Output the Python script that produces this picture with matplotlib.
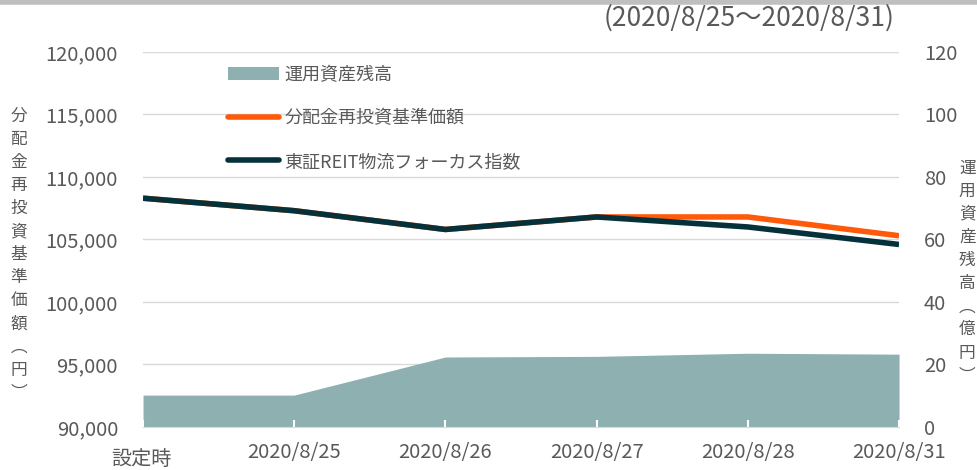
import numpy as np
import matplotlib.pyplot as plt
from matplotlib.patches import Patch
from matplotlib.lines import Line2D
import matplotlib.transforms as mtransforms

plt.rcParams['font.family'] = ['Noto Sans CJK JP', 'DejaVu Sans']

# data
dates = ['設定時', '2020/8/25', '2020/8/26', '2020/8/27', '2020/8/28', '2020/8/31']
nav = [108300, 107300, 105800, 106800, 106800, 105300]      # 分配金再投資基準価額
index = [108300, 107300, 105800, 106800, 106000, 104600]    # 東証REIT物流フォーカス指数
assets = [10.2, 10.2, 22.4, 22.6, 23.6, 23.3]              # 運用資産残高（億円）

grey = '#595959'
gridc = '#d9d9d9'
areac = '#8fb0b0'
orange = '#ff5a0a'
dark = '#05313a'

fig = plt.figure(figsize=(9.77, 4.70), dpi=100)
ax = fig.add_axes([0.1464, 0.0915, 0.7738, 0.798])
ax2 = ax.twinx()

x = np.arange(len(dates))
ax2.fill_between(x, 0, assets, color=areac, lw=0)
ax2.set_ylim(0, 120)
ax2.set_yticks(np.arange(0, 121, 20))

ax.plot(x, nav, color=orange, lw=4, solid_capstyle='butt', zorder=3)
ax.plot(x, index, color=dark, lw=4, solid_capstyle='butt', zorder=4)
ax.set_ylim(90000, 120000)
ax.set_yticks(np.arange(90000, 120001, 5000))
ax.set_yticklabels(['{:,}'.format(v) for v in range(90000, 120001, 5000)])
ax.set_xlim(0, len(dates) - 1)
ax.set_xticks(x)
ax.set_xticklabels(dates)

ax.set_zorder(ax2.get_zorder() + 1)
ax.patch.set_visible(False)
# gridlines behind the area
for v in range(90000, 120001, 5000):
    ax2.axhline((v - 90000) / 30000 * 120, color=gridc, lw=1, zorder=0)

for a in (ax, ax2):
    for s in a.spines.values():
        s.set_visible(False)
ax2.spines['bottom'].set_visible(True)
ax2.spines['bottom'].set_color(gridc)

ax.tick_params(axis='y', length=0, labelsize=14.5, labelcolor=grey, pad=18)
ax2.tick_params(axis='y', length=0, labelsize=14.5, labelcolor=grey, pad=18)
ax.tick_params(axis='x', direction='in', length=5, width=1.5, color='white',
               labelsize=14.5, labelcolor=grey, pad=11)

# first label sits lower
lab0 = ax.get_xticklabels()[0]
lab0.set_transform(lab0.get_transform() +
                   mtransforms.ScaledTranslation(-0.02, -0.07, fig.dpi_scale_trans))

# legend
handles = [Patch(facecolor=areac, edgecolor='none'),
           Line2D([], [], color=orange, lw=4, solid_capstyle='round'),
           Line2D([], [], color=dark, lw=4, solid_capstyle='round')]
labels = ['運用資産残高', '分配金再投資基準価額', '東証REIT物流フォーカス指数']
leg = fig.legend(handles, labels, loc='upper left', bbox_to_anchor=(0.217, 0.894),
                 frameon=False, fontsize=13, handlelength=2.8, handletextpad=0.3,
                 labelspacing=1.4)
for t in leg.get_texts():
    t.set_color(grey)

# title
fig.text(0.916, 0.962, '(2020/8/25～2020/8/31)', ha='right', va='center',
         fontsize=19, color=grey)

# vertical axis labels
fig.text(0.019, 0.458, '\n'.join('分配金再投資基準価額︵円︶'), ha='center', va='center',
         fontsize=12, color=grey, linespacing=1.47)
fig.text(0.990, 0.421, '\n'.join('運用資産残高︵億円︶'), ha='center', va='center',
         fontsize=12, color=grey, linespacing=1.47)

# top grey bar
fig.add_artist(plt.Line2D([0, 1], [0.995, 0.995], transform=fig.transFigure,
                          color='#bfbfbf', lw=4))

fig.savefig('out.png', dpi=100)
